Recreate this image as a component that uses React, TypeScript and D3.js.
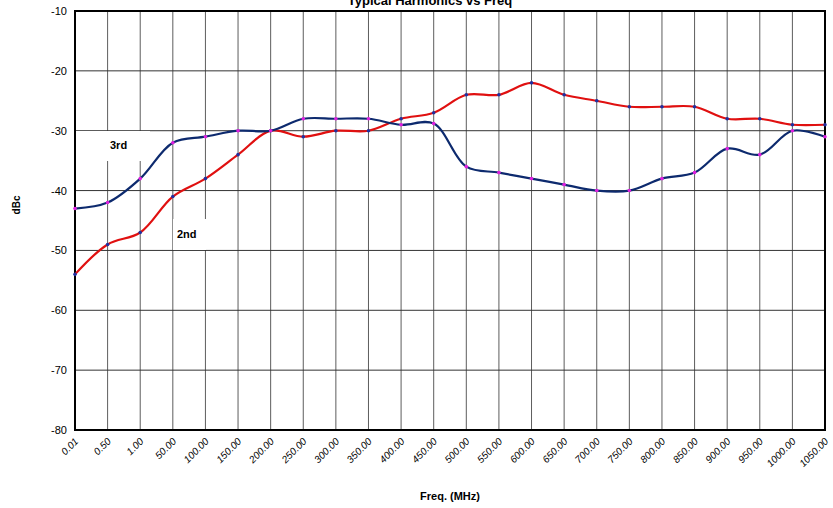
import React from "react";
import * as d3 from "d3";

const categories = ["0.01","0.50","1.00","50.00","100.00","150.00","200.00","250.00","300.00","350.00","400.00","450.00","500.00","550.00","600.00","650.00","700.00","750.00","800.00","850.00","900.00","950.00","1000.00","1050.00"];
const third = [-43,-42,-38,-32,-31,-30,-30,-28,-28,-28,-29,-28.8,-36,-37,-38,-39,-40,-40,-38,-37,-33,-34,-30,-31];
const second = [-54,-49,-47,-41,-38,-34,-30,-31,-30,-30,-28,-27,-24,-24,-22,-24,-25,-26,-26,-26,-28,-28,-29,-29];
const yTicks = [-10,-20,-30,-40,-50,-60,-70,-80];

export default function App() {
  const L = 75, R = 825, T = 11, B = 430;
  const x = d3.scalePoint<string>().domain(categories).range([L, R]);
  const y = d3.scaleLinear().domain([-80, -10]).range([B, T]);
  const line = d3.line<number>().x((_, i) => x(categories[i])!).y(d => y(d)).curve(d3.curveCatmullRom.alpha(0.5));
  const font = "Liberation Sans, Arial, sans-serif";
  return (
    <svg width={833} height={508} style={{ position: "absolute", left: 0, top: 0, background: "#fff" }}>
      <text x={430} y={5} textAnchor="middle" fontFamily={font} fontSize={13} fontWeight="bold">Typical Harmonics vs Freq</text>
      {yTicks.map(t => <line key={t} x1={L} x2={R} y1={y(t)} y2={y(t)} stroke="#333" strokeWidth={1} />)}
      {categories.map(c => <line key={c} x1={x(c)} x2={x(c)} y1={T} y2={B} stroke="#333" strokeWidth={0.8} />)}
      <rect x={76} y={131} width={74} height={30} fill="#fff" />
      <rect x={173} y={219} width={33} height={31} fill="#fff" />
      <rect x={L} y={T} width={R - L} height={B - T} fill="none" stroke="#000" strokeWidth={2} />
      {yTicks.map(t => <text key={t} x={L - 8} y={y(t) + 4} textAnchor="end" fontFamily={font} fontSize={11}>{t}</text>)}
      {categories.map(c => (
        <text key={c} transform={`translate(${x(c)! + 4},${B + 12}) rotate(-45)`} textAnchor="end" fontFamily={font} fontSize={10} fontStyle="italic">{c}</text>
      ))}
      <text x={450} y={500} textAnchor="middle" fontFamily={font} fontSize={11} fontWeight="bold">Freq. (MHz)</text>
      <text transform="translate(20,205) rotate(-90)" textAnchor="middle" fontFamily={font} fontSize={10} fontWeight="bold">dBc</text>
      <path d={line(second)!} fill="none" stroke="#e01010" strokeWidth={2.2} />
      <path d={line(third)!} fill="none" stroke="#0d2a6e" strokeWidth={2.2} />
      {second.map((v, i) => <circle key={"s" + i} cx={x(categories[i])} cy={y(v)} r={1.8} fill="#2030a0" />)}
      {third.map((v, i) => <circle key={"t" + i} cx={x(categories[i])} cy={y(v)} r={1.8} fill="#e020e0" />)}
      <text x={110} y={149} fontFamily={font} fontSize={11} fontWeight="bold">3rd</text>
      <text x={177} y={238} fontFamily={font} fontSize={11} fontWeight="bold">2nd</text>
    </svg>
  );
}
